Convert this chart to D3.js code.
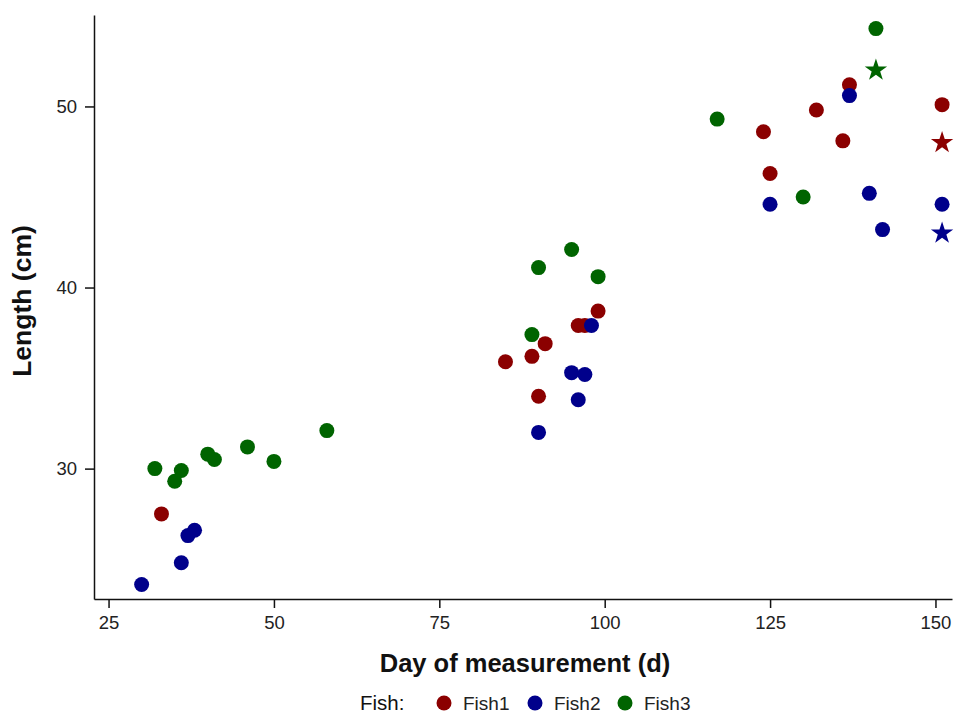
<!DOCTYPE html>
<html>
<head>
<meta charset="utf-8">
<script src="https://cdn.jsdelivr.net/npm/d3@7"></script>
<style>
  body { margin: 0; background: #fff; }
  svg { font-family: "Liberation Sans", Arial, sans-serif; }
</style>
</head>
<body>
<div id="chart"></div>
<script>
// measured points, one list per fish
const fish1Day = [33, 85, 89, 90, 91, 96, 97, 99, 124, 125, 132, 136, 137, 151];
const fish1Len = [27.5, 35.9, 36.2, 34.0, 36.9, 37.9, 37.9, 38.7, 48.6, 46.3, 49.8, 48.1, 51.2, 50.1];
const fish2Day = [30, 36, 37, 38, 90, 95, 96, 97, 98, 125, 137, 140, 142, 151];
const fish2Len = [23.6, 24.8, 26.3, 26.6, 32.0, 35.3, 33.8, 35.2, 37.9, 44.6, 50.6, 45.2, 43.2, 44.6];
const fish3Day = [32, 35, 36, 40, 41, 46, 50, 58, 89, 90, 95, 99, 117, 130, 141];
const fish3Len = [30.0, 29.3, 29.9, 30.8, 30.5, 31.2, 30.4, 32.1, 37.4, 41.1, 42.1, 40.6, 49.3, 45.0, 54.3];

// star markers
const starFish = ['Fish1', 'Fish2', 'Fish3'];
const starDay = [151, 151, 141];
const starLen = [48.0, 43.0, 52.0];

const fishNames = ['Fish1', 'Fish2', 'Fish3'];
const xTicks = [25, 50, 75, 100, 125, 150];
const yTicks = [30, 40, 50];

const W = 954;
const H = 715;
const margin = { top: 15, right: 2, bottom: 116, left: 94 };
const width = W - margin.left - margin.right;
const height = H - margin.top - margin.bottom;

const color = d3.scaleOrdinal()
  .domain(fishNames)
  .range(['#8b0000', '#00008b', '#006400']);

const points = [
  ...fish1Day.map((d, i) => ({ fish: 'Fish1', day: d, len: fish1Len[i] })),
  ...fish2Day.map((d, i) => ({ fish: 'Fish2', day: d, len: fish2Len[i] })),
  ...fish3Day.map((d, i) => ({ fish: 'Fish3', day: d, len: fish3Len[i] })),
];
const stars = starFish.map((f, i) => ({ fish: f, day: starDay[i], len: starLen[i] }));

const x = d3.scaleLinear().domain([22.8, 152.5]).range([0, width]);
const y = d3.scaleLinear().domain([22.8, 55.05]).range([height, 0]);

const svg = d3.select('#chart').append('svg')
  .attr('width', W)
  .attr('height', H);

const g = svg.append('g').attr('transform', `translate(${margin.left},${margin.top})`);

const xAxis = g.append('g')
  .attr('transform', `translate(0,${height})`)
  .call(d3.axisBottom(x).tickValues(xTicks).tickSize(9).tickPadding(8).tickSizeOuter(0));

const yAxis = g.append('g')
  .call(d3.axisLeft(y).tickValues(yTicks).tickSize(9).tickPadding(8).tickSizeOuter(0));

[xAxis, yAxis].forEach((ax) => {
  ax.select('.domain').attr('stroke', '#111').attr('stroke-width', 1.5);
  ax.selectAll('.tick line').attr('stroke', '#111').attr('stroke-width', 1.5);
  ax.selectAll('.tick text').attr('fill', '#222').style('font-size', '18.5px');
});

g.append('text')
  .attr('x', 525 - margin.left)
  .attr('y', 672 - margin.top)
  .attr('text-anchor', 'middle')
  .style('font-size', '25.5px')
  .style('font-weight', 'bold')
  .attr('fill', '#111')
  .text('Day of measurement (d)');

g.append('text')
  .attr('transform', `translate(${31 - margin.left},${301 - margin.top}) rotate(-90)`)
  .attr('text-anchor', 'middle')
  .style('font-size', '26.5px')
  .style('font-weight', 'bold')
  .attr('fill', '#111')
  .text('Length (cm)');

g.selectAll('circle.pt')
  .data(points)
  .enter()
  .append('circle')
  .attr('class', 'pt')
  .attr('cx', d => x(d.day))
  .attr('cy', d => y(d.len))
  .attr('r', 7.5)
  .attr('fill', d => color(d.fish));

const star = d3.symbol().type(d3.symbolStar).size(155);
g.selectAll('path.star')
  .data(stars)
  .enter()
  .append('path')
  .attr('class', 'star')
  .attr('transform', d => `translate(${x(d.day)},${y(d.len)})`)
  .attr('d', star)
  .attr('fill', d => color(d.fish));

// legend along the bottom edge
const legend = svg.append('g').attr('transform', 'translate(360,710)');
legend.append('text')
  .attr('x', 0)
  .attr('y', 0)
  .style('font-size', '20.5px')
  .attr('fill', '#111')
  .text('Fish:');

const legendX = [84, 175, 265];
fishNames.forEach((f, i) => {
  legend.append('circle')
    .attr('cx', legendX[i])
    .attr('cy', -7)
    .attr('r', 7.5)
    .attr('fill', color(f));
  legend.append('text')
    .attr('x', legendX[i] + 19)
    .attr('y', 0)
    .style('font-size', '19px')
    .attr('fill', '#222')
    .text(f);
});
</script>
</body>
</html>
